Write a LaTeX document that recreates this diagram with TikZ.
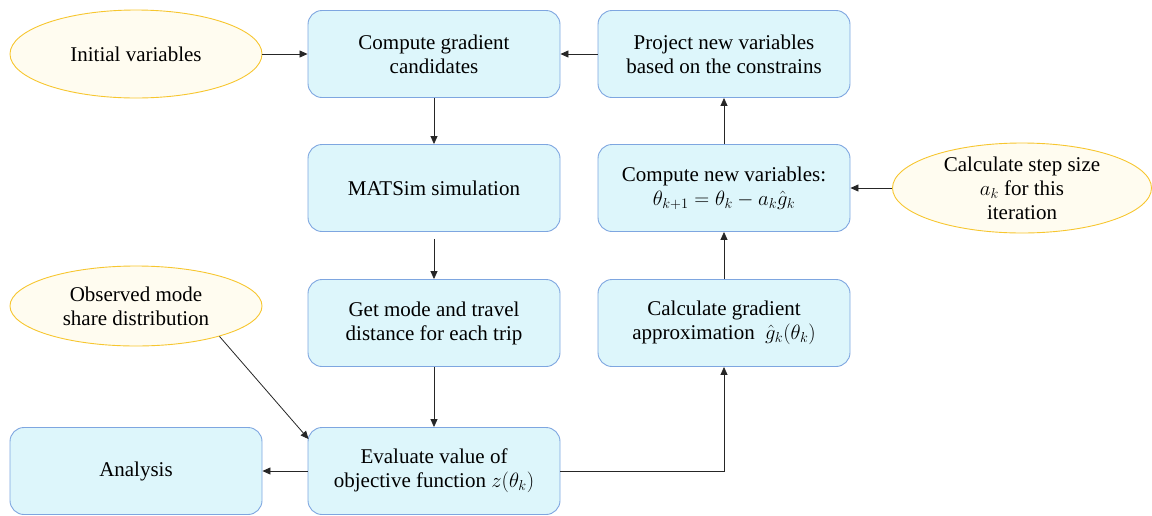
\documentclass[tikz,border=0pt]{standalone}
\usepackage{fontspec}
\setmainfont{Liberation Serif}
\usetikzlibrary{shapes.geometric,arrows.meta}
\definecolor{boxfill}{HTML}{DDF6FB}
\definecolor{boxdraw}{HTML}{7EA6E0}
\definecolor{elfill}{HTML}{FFFCF0}
\definecolor{eldraw}{HTML}{F7C62F}
\begin{document}
\begin{tikzpicture}[x=1pt,y=-1pt,
  box/.style={draw=boxdraw,fill=boxfill,rounded corners=14pt,minimum width=252pt,minimum height=87pt,align=center,font=\fontsize{21}{24}\selectfont,line width=0.9pt,inner sep=0pt},
  ell/.style={draw=eldraw,fill=elfill,ellipse,minimum width=252pt,minimum height=88pt,align=center,font=\fontsize{21}{24}\selectfont,line width=0.9pt,inner sep=0pt},
  arr/.style={-{Triangle[length=8pt,width=7pt]},line width=0.8pt,draw=black!85}]
\useasboundingbox (0,0) rectangle (1152,515);
\node[box] (cg) at (434,54) {Compute gradient\\candidates};
\node[box] (ms) at (434,188) {MATSim simulation};
\node[box] (gm) at (434,323) {Get mode and travel\\distance for each trip};
\node[box] (ev) at (434,471) {Evaluate value of\\objective function $z(\theta_k)$};
\node[box] (an) at (136,471) {Analysis};
\node[box] (pj) at (724,54) {Project new variables\\based on the constrains};
\node[box] (cn) at (724,188) {Compute new variables:\\$\theta_{k+1}=\theta_k-a_k\hat{g}_k$};
\node[box] (ga) at (724,323) {Calculate gradient\\approximation\ \ $\hat{g}_k(\theta_k)$};
\node[ell] (iv) at (136,54) {Initial variables};
\node[ell,minimum height=80pt] (ob) at (136,306) {Observed mode\\share distribution};
\node[ell,minimum width=259pt,minimum height=90pt] (ss) at (1022,188) {Calculate step size\\$a_k$ for this\\iteration};
\coordinate (corner) at (724,471);
\draw[arr] (iv) -- (cg);
\draw[arr] (pj) -- (cg);
\draw[arr] (cg) -- (ms);
\draw[arr] (ms.south) ++(0,7) -- (gm);
\draw[arr] (gm) -- (ev);
\draw[arr] (ev) -- (an);
\draw[arr] (ev) -- (corner) -- (ga);
\draw[arr] (ga) -- (cn);
\draw[arr] (cn) -- (pj);
\draw[arr] (ss) -- (cn);
\draw[arr] (ob.-20) -- ([xshift=1pt,yshift=-12pt]ev.north west);
\end{tikzpicture}
\end{document}
